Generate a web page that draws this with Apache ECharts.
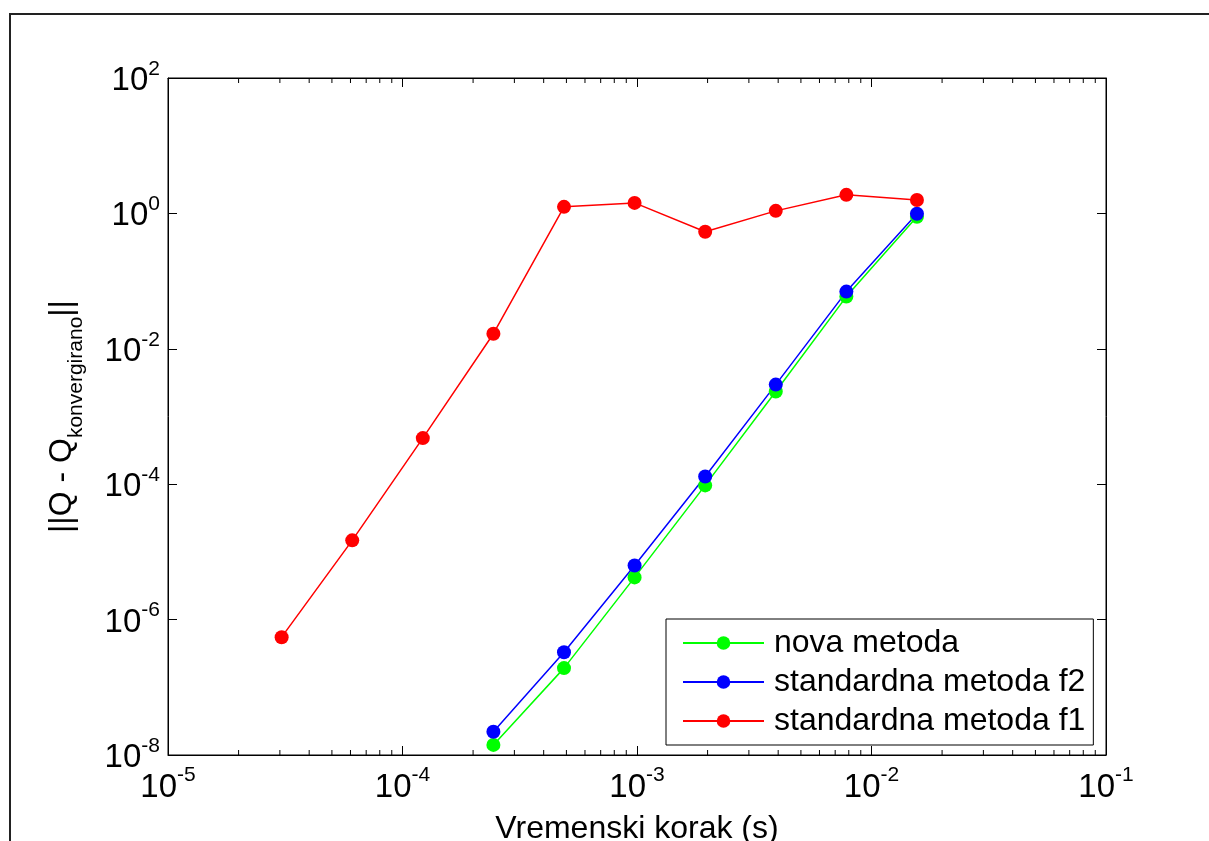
<!DOCTYPE html>
<html>
<head>
<meta charset="utf-8">
<script src="https://cdn.jsdelivr.net/npm/echarts@6/dist/echarts.min.js"></script>
<style>
html,body{margin:0;padding:0;background:#fff;overflow:hidden;}
#chart{width:1209px;height:841px;}
</style>
</head>
<body>
<div id="chart"></div>
<script>
// ---- data ----
const timeSteps = [3.0517578125e-5, 6.103515625e-5, 1.220703125e-4, 2.44140625e-4, 4.8828125e-4,
                   9.765625e-4, 1.953125e-3, 3.90625e-3, 7.8125e-3, 1.5625e-2];
const seriesNames = ['nova metoda', 'standardna metoda f2', 'standardna metoda f1'];
const novaMetoda = [1.41e-8, 1.92e-7, 4.2e-6, 9.6e-5, 2.34e-3, 0.059, 0.89];          // from 2.44e-4
const standardnaF2 = [2.2e-8, 3.3e-7, 6.3e-6, 1.3e-4, 2.96e-3, 0.07, 0.99];          // from 2.44e-4
const standardnaF1 = [5.5e-7, 1.48e-5, 4.8e-4, 1.67e-2, 1.25, 1.43, 0.535, 1.09, 1.88, 1.58];
const xMin = 1e-5, xMax = 1e-1, yMin = 1e-8, yMax = 1e2;
const xMinorTicks = [];
for (let e = -5; e < -1; e++) for (let m = 2; m <= 9; m++) xMinorTicks.push(m * Math.pow(10, e));

const FONT = '"Liberation Sans", Arial, sans-serif';
function pairs(xs, ys) {
  const off = xs.length - ys.length;
  return ys.map((y, i) => [xs[i + off], y]);
}
function powLabel(v) {
  const e = Math.round(Math.log10(v));
  return '{b|10}{s|' + e + '}';
}
const richLabel = {
  b: {fontSize: 33, fontFamily: FONT, color: '#000', padding: [6, 0, 0, 0], verticalAlign: 'bottom'},
  s: {fontSize: 21, fontFamily: FONT, color: '#000', verticalAlign: 'top'}
};

const chart = echarts.init(document.getElementById('chart'), null, {renderer: 'canvas', width: 1209, height: 841});
const common = {
  axisLine: {show: true, lineStyle: {color: '#000', width: 1}},
  axisTick: {show: true, inside: true, length: 9, lineStyle: {color: '#000', width: 1}},
  splitLine: {show: false},
  minorTick: {show: false}
};
chart.setOption({
  animation: false,
  backgroundColor: '#fff',
  graphic: [{
    type: 'rect', z: 100, silent: true,
    shape: {x: 10, y: 14, width: 1400, height: 1000},
    style: {fill: null, stroke: '#222', lineWidth: 2}
  }],
  grid: {left: 168, top: 78, width: 938, height: 677, show: true, borderColor: '#000', borderWidth: 1,
         containLabel: false, outerBoundsMode: 'none'},
  legend: {
    data: seriesNames,
    orient: 'vertical',
    left: 666, top: 619,
    padding: [8, 8, 8, 16],
    itemGap: 7,
    itemWidth: 81, itemHeight: 17,
    backgroundColor: '#fff',
    borderColor: '#000', borderWidth: 1,
    textStyle: {fontSize: 32, fontFamily: FONT, color: '#000', lineHeight: 31, padding: [0, 0, 0, 5]}
  },
  xAxis: [
    Object.assign({
      type: 'log', logBase: 10, min: xMin, max: xMax, interval: 1, position: 'bottom',
      name: 'Vremenski korak (s)', nameLocation: 'middle', nameGap: 58,
      nameTextStyle: {fontSize: 32, fontFamily: FONT, color: '#000'},
      axisLabel: {margin: 10, formatter: powLabel, rich: richLabel}
    }, common),
    Object.assign({
      type: 'log', logBase: 10, min: xMin, max: xMax, interval: 1, position: 'top',
      axisLabel: {show: false}
    }, common)
  ],
  yAxis: [
    Object.assign({
      type: 'log', logBase: 10, min: yMin, max: yMax, interval: 2, position: 'left',
      name: '{n|||Q - Q}{sub|konvergirano}{n|||}', nameLocation: 'middle', nameGap: 81, nameRotate: 90,
      nameTextStyle: {
        rich: {
          n: {fontSize: 32, fontFamily: FONT, color: '#000', verticalAlign: 'top'},
          sub: {fontSize: 21, fontFamily: FONT, color: '#000', padding: [20, 0, 0, 0], verticalAlign: 'bottom'}
        }
      },
      axisLabel: {margin: 8, formatter: powLabel, rich: richLabel}
    }, common),
    Object.assign({
      type: 'log', logBase: 10, min: yMin, max: yMax, interval: 2, position: 'right',
      axisLabel: {show: false}
    }, common)
  ],
  series: [
    {
      name: seriesNames[0], type: 'line', data: pairs(timeSteps, novaMetoda),
      symbol: 'circle', symbolSize: 14, color: '#00ff00',
      lineStyle: {color: '#00ff00', width: 1.5}, itemStyle: {color: '#00ff00'}
    },
    {
      name: seriesNames[1], type: 'line', data: pairs(timeSteps, standardnaF2),
      symbol: 'circle', symbolSize: 14, color: '#0000ff',
      lineStyle: {color: '#0000ff', width: 1.5}, itemStyle: {color: '#0000ff'}
    },
    {
      name: seriesNames[2], type: 'line', data: pairs(timeSteps, standardnaF1),
      symbol: 'circle', symbolSize: 14, color: '#ff0000',
      lineStyle: {color: '#ff0000', width: 1.5}, itemStyle: {color: '#ff0000'}
    },
    {
      name: 'minorTicks', type: 'custom', silent: true, clip: false, z: 1,
      data: xMinorTicks.map(v => [v, yMin]),
      renderItem: function (params, api) {
        const v = api.value(0);
        const pb = api.coord([v, yMin]);
        const pt = api.coord([v, yMax]);
        return {
          type: 'group',
          children: [
            {type: 'line', shape: {x1: pb[0], y1: pb[1], x2: pb[0], y2: pb[1] - 5}, style: {stroke: '#000', lineWidth: 1}},
            {type: 'line', shape: {x1: pt[0], y1: pt[1], x2: pt[0], y2: pt[1] + 5}, style: {stroke: '#000', lineWidth: 1}}
          ]
        };
      }
    }
  ]
});
</script>
</body>
</html>
